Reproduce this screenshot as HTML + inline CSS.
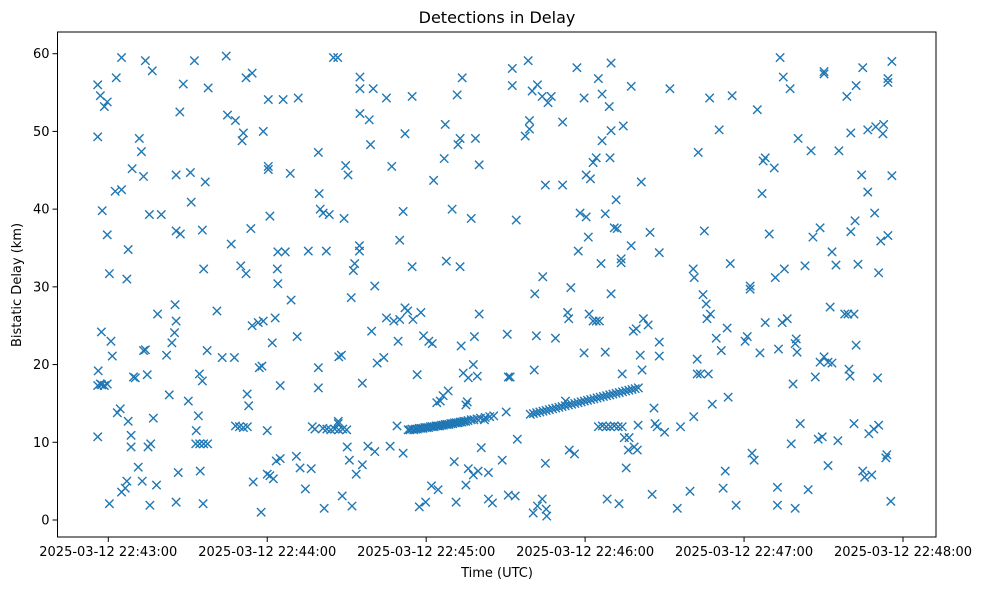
<!DOCTYPE html>
<html><head><meta charset="utf-8">
<style>
html,body{margin:0;padding:0;background:#fff;}
svg{display:block;font-family:"DejaVu Sans","Liberation Sans",sans-serif;}
</style></head>
<body>
<svg id="chart" width="986" height="590" viewBox="0 0 986 590" xmlns="http://www.w3.org/2000/svg">
<rect x="0" y="0" width="986" height="590" fill="#fff"/>
<text x="497" y="23" text-anchor="middle" font-size="16" fill="#000">Detections in Delay</text>
<g id="marks"></g>
<g id="axes"></g>
<text x="497" y="577" text-anchor="middle" font-size="13" fill="#000">Time (UTC)</text>
<text transform="translate(21,285) rotate(-90)" text-anchor="middle" font-size="13" fill="#000">Bistatic Delay (km)</text>
</svg>
<script>
// seconds after 2025-03-12 22:42:00, delay in km
const xTickSeconds = [60, 120, 180, 240, 300, 360];
const xTickLabels = ["2025-03-12 22:43:00","2025-03-12 22:44:00","2025-03-12 22:45:00","2025-03-12 22:46:00","2025-03-12 22:47:00","2025-03-12 22:48:00"];
const yTickValues = [0, 10, 20, 30, 40, 50, 60];

const scatterLeft = [
[56,49.3],[56,56.0],[57,54.6],[58.5,53.2],[59.6,53.8],[57.7,39.8],[59.6,36.7],[60.4,31.7],[57.4,24.2],[56.2,19.2],[56,10.7],[60.4,2.1],[61,23],[61.5,21.1],
[63,56.9],[65,59.5],[62.6,42.3],[65,42.5],[63.4,13.8],[64.5,14.3],[65,3.6],[66.4,4.1],[67,5.0],[67,31],[67.5,34.8],[67.5,12.7],[68.6,9.4],[68.6,10.9],[69.5,18.4],[70.2,18.3],
[69,45.2],[71.7,49.1],[72.5,47.4],[73.3,44.2],[74,59.1],[76.6,57.8],[75.5,39.3],[80,39.3],[73.3,21.8],[74,21.9],[74.7,18.7],[71.3,6.8],[72.8,5.0],[75,9.4],[76,9.8],[75.7,1.9],
[77,13.1],[78.2,4.5],[78.6,26.5],[82,21.2],[83,16.1],[84,22.8],[85,24.1],[85.6,25.6],[85.6,2.3],[86.4,6.1],[85.2,27.7],[85.6,37.2],[87.2,36.8],[85.6,44.4],[87,52.5],[88.3,56.1],
[91,44.7],[91.3,40.9],[90.2,15.3],[92.5,59.1],[93.2,11.5],[94,13.4],[94.4,18.8],[94.7,6.3],[95.5,17.9],[95.5,37.3],[96.6,43.5],[96,32.3],[97.7,55.6],[97.3,21.8],[95.8,2.1],
[101,26.9],[103,20.9],[104.5,59.7],[105,52.1],[106.4,35.5],[107.6,20.9],[108,51.4],[110.5,48.8],[111,49.8],[110,32.7],[112,31.7],[112,56.9],[114.3,57.5],[112.4,16.2],[113,14.7],
[113.8,37.5],[114.3,25.0],[114.7,4.9],[116.6,25.4],[117,19.6],[117.7,1.0],[118.5,50.0],[118,19.8],[118.5,25.6],[120,11.5],[120.4,45.5],[120.4,45.1],[120,5.9],[120.4,54.1],
[121,39.1],[121,5.7],[121.9,22.8],[122.3,5.3],[123,26.0],[123.4,7.6],[124,34.5],[123.8,32.3],[124,30.4],[124.9,7.9],[124.9,17.3],[126,54.1],[126.8,34.5],[128.7,44.6],[129,28.3],
[131,8.2],[131.3,23.6],[131.7,54.3],[132.4,6.7],[134.4,4.0],[135.5,34.6],[136.6,6.6],[137,12.0],[138,11.7],[139.3,47.3],[139.3,17.0],[139.3,19.6],[139.6,42.0],[140,40.0],
[141.1,39.5],[141.5,1.5],[142.3,34.6],[143.4,39.3],[145,59.5],[146.6,59.5],[146.8,12.4],[146.8,12.7],[147,21.0],[148,21.2],[148.3,3.1],[149,38.8],[149.6,45.6],[150.5,44.4],
[150.2,9.4],[151,7.7],[151.7,28.6],[152.5,32.1],[153,33.0],[152,1.8],[153.6,5.9],[155,57.0],[154.8,34.6],[154.8,35.3],[155,55.5],[155,52.3],[155.9,17.6],[155.9,7.1],[158,9.5],
[158.5,51.5],[159,48.3],[159.4,24.3],[160,55.5],[160.6,30.1],[160.6,8.8],[161.5,20.2],[164,20.9],[165,26.0],[165,54.3],[166.4,9.5],[167,45.5],[167.8,25.6],[169,12.1],[169.4,23.0],
[170,25.8],[170,36.0],[171.3,39.7],[171.3,8.6],[172,49.7],[172,27.3],[173,26.9],[174.7,32.6],[174.7,54.5],[175,25.8],[176.6,18.7],[177.4,1.7],[178,26.7],[179,23.7]
];
const scatterRight = [
[179.8,2.3],[181,23],[182.3,22.7],[182,4.4],[182.8,43.7],[184,15.1],[184.5,3.9],[185.3,15.3],[186.4,16.0],[186.8,46.5],[187.2,50.9],[187.6,33.3],[188.3,16.6],[189.8,40.0],
[190.6,7.5],[191.7,54.7],[191.3,2.3],[192,48.3],[192.8,49.1],[192.8,32.6],[193.2,22.4],[193.6,56.9],[194,18.9],[195,14.8],[195,4.5],[195.5,15.2],[195.9,6.6],[195.9,18.3],
[197,38.8],[197.8,20],[198.2,23.6],[198.6,49.1],[197.8,5.8],[199.3,18.5],[200,45.7],[200,26.5],[199.6,6.3],[200.8,9.3],[202,12.9],[203.5,2.7],[203.5,6.1],[205,2.2],[208.7,7.7],
[210.2,13.9],[210.6,23.9],[211,18.4],[211.7,18.4],[211,3.2],[212.5,58.1],[212.5,55.9],[213.6,3.1],[214,38.6],[214.4,10.4],[217.4,49.4],[218.5,59.1],[219,51.4],[219,50.3],
[220,55.2],[220.4,0.9],[220.8,19.3],[221,29.1],[221.6,23.7],[222,1.8],[222,56.0],[223.8,2.7],[223.8,54.5],[225,43.1],[224,31.3],[225,7.3],[225.5,0.5],[225.3,1.4],[226,53.7],
[227.2,54.5],[228.8,23.4],[231.5,43.1],[231.5,51.2],[232.6,15.3],[233.4,26.7],[233.8,25.9],[234,9.0],[234.6,29.9],[236,8.5],[236.9,58.2],[237.4,34.6],[238.1,39.5],[239.6,54.3],
[239.6,21.5],[240.4,39.0],[240.4,44.4],[241.5,26.5],[241.2,36.4],[242,43.9],[243,25.6],[244.2,25.6],[245.4,25.6],[243,46],[244.2,46.6],[245,56.8],[246.4,48.8],[246.4,54.8],
[246,33.0],[247.6,39.4],[247.6,21.6],[248.3,2.7],[249.1,53.2],[249.8,58.8],[249.8,50.1],[249.4,46.6],[249.8,29.1],[251,37.6],[252.1,37.5],[251.7,41.2],[252.8,2.1],[253.6,33.6],
[253.6,33.1],[254,18.8],[254.4,50.7],[254.8,10.6],[255.5,6.7],[256.3,9.0],[256.6,10.6],[257.4,55.8],[257.4,35.3],[258.2,24.3],[258.5,9.4],[259.3,24.6],[259.7,9.0],[260,12.2],
[260.8,21.2],[261.2,43.5],[261.5,19.3],[262,25.9],[263.8,25.1],[265.3,3.3],[264.5,37.0],[266,14.4],[266.4,12.4],[267.2,12.0],[268,22.9],[268,21.1],[268,34.4],[270,11.3],
[272,55.5],[274.8,1.5],[276,12.0],[279.6,3.7],[280.8,32.3],[281.2,31.2],[281,13.3],[282.3,20.7],[282.3,18.8],[282.7,47.3],[283.5,18.8],[284.5,29.0],[285,37.2],[285.7,27.8],
[286,25.9],[286.5,18.8],[287,54.3],[287.3,26.5],[288,14.9],[289.5,23.4],[290.6,50.2],[291.4,21.8],[292.1,4.1],[292.9,6.3],[293.6,24.7],[294,15.8],[294.8,33.0],[295.5,54.6],
[297,1.9],[300.4,23.0],[301.2,23.6],[302.3,29.7],[302.3,30.1],[303,8.6],[303.8,7.7],[305,52.8],[306,21.5],[306.8,42.0],[307.2,46.2],[308,46.6],[308,25.4],[309.5,36.8],
[311.4,45.3],[311.8,31.2],[312.6,1.9],[312.6,4.2],[313,22.0],[313.6,59.5],[314.4,25.4],[314.8,57.0],[315.2,32.3],[316.3,25.9],[317.4,55.5],[317.8,9.8],[318.5,17.5],[319.3,1.5],
[319.3,22.7],[319.7,23.3],[320,21.6],[320.4,49.1],[321.2,12.4],[323,32.7],[324.2,3.9],[325.3,47.5],[326,36.4],[326.9,18.4],[328,10.4],[328.7,37.6],[328.7,20.3],[329.5,10.7],
[330.2,57.7],[330.2,57.4],[330.2,21.0],[331.7,7.0],[331.7,20.3],[333.2,20.2],[333.2,34.5],[332.5,27.4],[334.7,32.8],[335.8,47.5],[335.4,10.2],[338,26.5],[338.8,54.5],[339.2,26.5],
[339.6,19.4],[340,18.5],[340.3,49.8],[340.3,37.1],[341.5,12.4],[341.5,26.5],[342.3,55.9],[342.3,22.5],[343,32.9],[341.9,38.5],[344.8,58.2],[344.4,44.4],[344.8,6.3],[345.5,5.5],
[346.7,42.2],[346.7,50.2],[347.1,11.1],[348.2,5.8],[349,11.7],[349.7,50.6],[349.3,39.5],[350.8,31.8],[350.4,18.3],[350.8,12.2],[351.6,35.9],[352.4,49.7],[352.7,50.9],[353.5,8.0],
[353.9,8.4],[354.3,56.3],[354.3,56.8],[354.3,36.6],[355.8,59.0],[355.8,44.3],[355.4,2.4]
];
const clusterPoints = [
[56,17.3],[57,17.5],[58.5,17.3],[59.6,17.5],[57.5,17.4],
[93,9.8],[94.5,9.8],[96,9.8],[97.5,9.8],
[108,12.1],[109.5,12.0],[111,11.9],[112.5,12.0],
[141,11.8],[142.5,11.7],[144,11.6],[145.5,11.7],[147,11.6],[148.5,11.7],[150,11.6],
[245,12.0],[246.5,12.1],[248,12.0],[249.5,12.0],[251,12.1],[252.5,12.0],[254,12.0]
];
const trackOne = [
[173.2,11.6],[173.9,11.6],[174.6,11.7],[175.3,11.6],[176,11.7],[176.7,11.7],[177.4,11.8],[178.1,11.8],[178.8,11.8],[179.5,11.9],[180.2,11.9],[180.9,11.9],[181.6,12.0],[182.3,12.0],
[183,12.0],[183.7,12.1],[184.4,12.1],[185.1,12.1],[185.8,12.2],[186.5,12.2],[187.2,12.3],[187.9,12.3],[188.6,12.3],[189.3,12.4],[190,12.4],[190.7,12.5],[191.4,12.5],[192.1,12.5],
[192.8,12.6],[193.5,12.6],[194.2,12.7],[194.9,12.7],[195.8,12.8],[197,12.9],[198,12.9],[199.2,13.0],[200.5,13.1],[202.3,13.2],[204,13.3],[205.5,13.4]
];
const trackTwo = [
[219.3,13.6],[220.5,13.7],[221.7,13.8],[222.9,13.9],[224.1,14.0],[225.3,14.1],[226.5,14.2],[227.7,14.3],[228.9,14.4],[230.1,14.5],[231.3,14.6],[232.5,14.7],[233.7,14.8],
[234.9,14.9],[236.1,15.0],[237.3,15.1],[238.5,15.2],[239.7,15.3],[240.9,15.4],[242.1,15.5],[243.3,15.6],[244.5,15.7],[245.7,15.8],[246.9,15.9],[248.1,16.0],[249.3,16.1],
[250.5,16.2],[251.7,16.3],[252.9,16.4],[254.1,16.5],[255.3,16.6],[256.5,16.7],[257.7,16.8],[258.9,16.9],[260.1,17.0]
];

const NS = "http://www.w3.org/2000/svg";
const L = 57.5, R = 936, T = 32, B = 537;
function xScale(s){ return 108.3 + (s - 60) * (903 - 108.3) / 300; }
function yScale(v){ return 520 - v * (520 - 53.7) / 60; }

const marks = document.getElementById('marks');
function drawX(pt, name){
  const cx = xScale(pt[0]), cy = yScale(pt[1]), h = 4.2;
  const p = document.createElementNS(NS, 'path');
  p.setAttribute('d', `M${cx-h},${cy-h}L${cx+h},${cy+h}M${cx-h},${cy+h}L${cx+h},${cy-h}`);
  p.setAttribute('stroke', '#1f77b4');
  p.setAttribute('stroke-width', '1.4');
  p.setAttribute('fill', 'none');
  
  
  marks.appendChild(p);
}
scatterLeft.forEach(p => drawX(p, 'detection-marker'));
scatterRight.forEach(p => drawX(p, 'detection-marker'));
clusterPoints.forEach(p => drawX(p, 'cluster-marker'));
trackOne.forEach(p => drawX(p, 'track-one-marker'));
trackTwo.forEach(p => drawX(p, 'track-two-marker'));

const axes = document.getElementById('axes');
const frame = document.createElementNS(NS, 'rect');
frame.setAttribute('x', L); frame.setAttribute('y', T);
frame.setAttribute('width', R - L); frame.setAttribute('height', B - T);
frame.setAttribute('fill', 'none'); frame.setAttribute('stroke', '#000'); frame.setAttribute('stroke-width', '1');


axes.appendChild(frame);

xTickSeconds.forEach((s, i) => {
  const x = xScale(s);
  const t = document.createElementNS(NS, 'line');
  t.setAttribute('x1', x); t.setAttribute('x2', x); t.setAttribute('y1', B); t.setAttribute('y2', B + 5);
  t.setAttribute('stroke', '#000');
  
  
  axes.appendChild(t);
  const lb = document.createElementNS(NS, 'text');
  lb.setAttribute('x', x); lb.setAttribute('y', B + 19);
  lb.setAttribute('text-anchor', 'middle'); lb.setAttribute('font-size', '13');
  lb.textContent = xTickLabels[i];
  
  
  axes.appendChild(lb);
});
yTickValues.forEach(v => {
  const y = yScale(v);
  const t = document.createElementNS(NS, 'line');
  t.setAttribute('x1', L - 5); t.setAttribute('x2', L); t.setAttribute('y1', y); t.setAttribute('y2', y);
  t.setAttribute('stroke', '#000');
  
  
  axes.appendChild(t);
  const lb = document.createElementNS(NS, 'text');
  lb.setAttribute('x', L - 8); lb.setAttribute('y', y + 4.5);
  lb.setAttribute('text-anchor', 'end'); lb.setAttribute('font-size', '13');
  lb.textContent = String(v);
  
  
  axes.appendChild(lb);
});
</script>
</body></html>
